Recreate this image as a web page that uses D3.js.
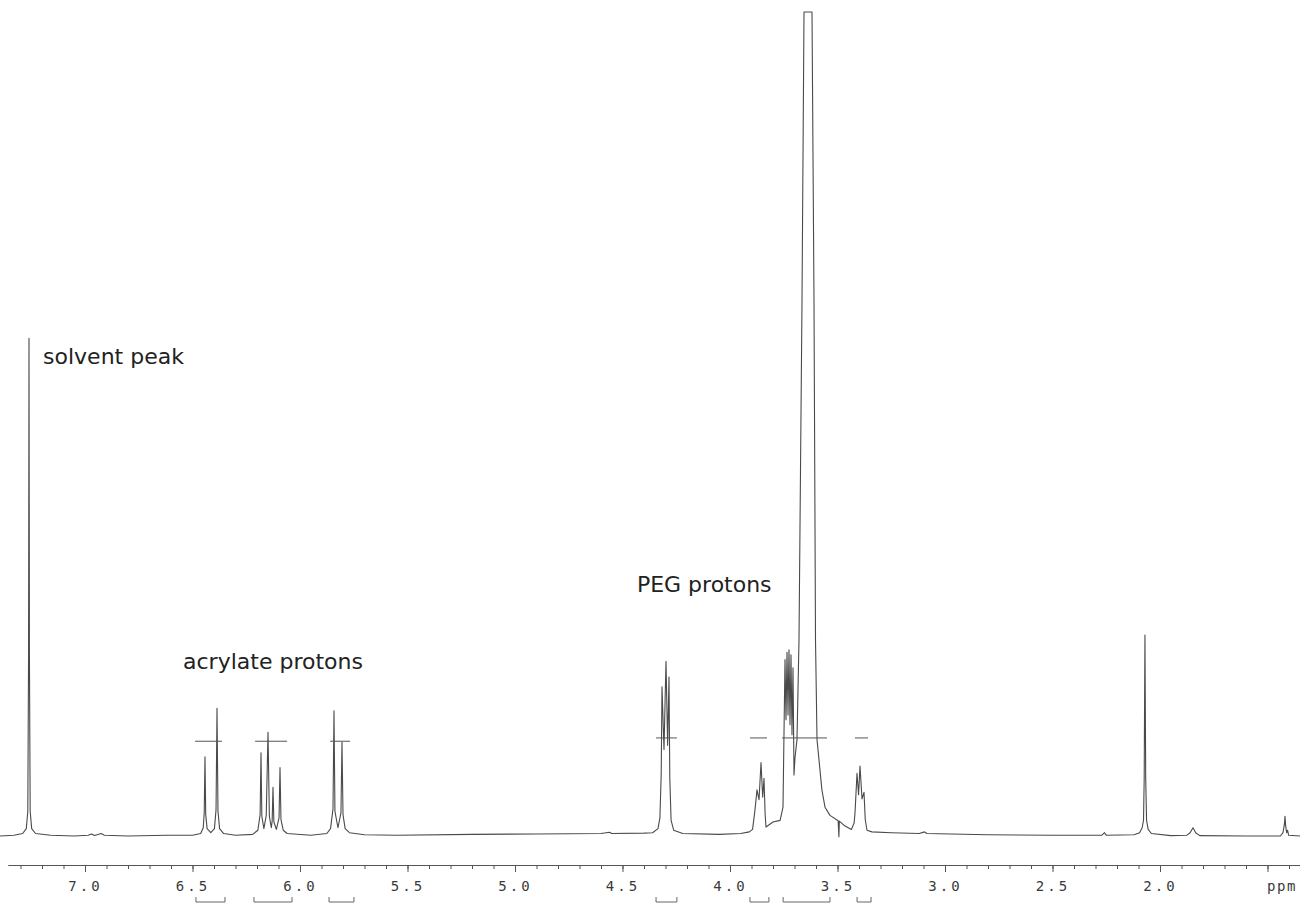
<!DOCTYPE html>
<html>
<head>
<meta charset="utf-8">
<script src="https://cdn.jsdelivr.net/npm/d3@7"></script>
<style>
  body { margin: 0; background: #fff; }
  svg { display: block; background: #fff; }
</style>
</head>
<body>
<svg id="main_svg" width="1300" height="905"></svg>
<script>
// trace: [ppm, intensity], left (downfield) to right
const solventRegion = [
  [7.395, 0.0], [7.33, 0.1], [7.29, 0.3], [7.273, 0.9], [7.266, 3.0],
  [7.2625, 22], [7.2605, 60.4], [7.2585, 22], [7.255, 3.0], [7.248, 0.9],
  [7.23, 0.3], [7.16, 0.1], [7.05, 0.0], [6.985, 0.1], [6.97, 0.25],
  [6.955, 0.05], [6.925, 0.3], [6.91, 0.1], [6.80, 0.0], [6.62, 0.1]
];
const acrylateRegion = [
  [6.50, 0.1], [6.462, 0.3], [6.450, 1.0], [6.4455, 2.8], [6.4419, 9.6],
  [6.4385, 2.6], [6.432, 0.9], [6.415, 0.4], [6.398, 0.9], [6.3905, 3.2],
  [6.3860, 15.5], [6.3815, 3.0], [6.374, 0.9], [6.355, 0.3], [6.30, 0.1],
  [6.22, 0.2], [6.196, 0.7], [6.1855, 2.6], [6.1814, 10.1], [6.1775, 2.4],
  [6.168, 0.9], [6.157, 2.5], [6.1488, 12.6], [6.1425, 2.4], [6.1335, 1.0],
  [6.1295, 1.8], [6.1256, 5.9], [6.1215, 1.7], [6.110, 0.8], [6.0975, 2.2],
  [6.0930, 8.3], [6.0885, 2.0], [6.078, 0.7], [6.06, 0.3], [5.95, 0.1],
  [5.875, 0.3], [5.858, 0.9], [5.8465, 3.3], [5.8419, 15.2], [5.8375, 3.0],
  [5.8235, 1.0], [5.8095, 2.8], [5.8047, 11.4], [5.800, 2.6], [5.790, 0.9],
  [5.77, 0.4], [5.70, 0.15], [5.55, 0.1], [5.2, 0.2], [4.9, 0.25],
  [4.60, 0.3], [4.56, 0.45], [4.55, 0.3], [4.40, 0.35]
];
const pegRegion = [
  [4.36, 0.4], [4.335, 0.9], [4.326, 2.2], [4.320, 7.5], [4.3163, 18.1],
  [4.307, 10.5], [4.2977, 21.2], [4.290, 11.0], [4.2837, 19.3], [4.280, 7.0],
  [4.274, 1.9], [4.262, 0.7], [4.22, 0.3], [4.05, 0.2], [3.95, 0.3],
  [3.91, 0.5], [3.895, 0.8], [3.8837, 3.2], [3.8744, 5.6], [3.865, 4.4],
  [3.8558, 8.9], [3.848, 4.7], [3.8419, 7.0], [3.8365, 2.6], [3.8326, 1.1],
  [3.80, 1.7], [3.767, 1.9], [3.7535, 3.5], [3.7442, 21.4], [3.7395, 14.1],
  [3.7349, 22.3], [3.7302, 14.7], [3.7256, 22.6], [3.7209, 13.5], [3.7163, 22.0],
  [3.7116, 12.3], [3.7070, 20.4], [3.7023, 7.4], [3.6977, 9.5], [3.6884, 11.7],
  [3.6791, 23.8], [3.6651, 65.0], [3.6558, 100], [3.6186, 100], [3.6093, 65.0],
  [3.6023, 23.8], [3.5953, 11.7], [3.5814, 8.0], [3.5726, 5.6], [3.5581, 3.5],
  [3.5349, 2.5], [3.497, 1.85], [3.4935, -0.1], [3.4915, 1.8], [3.4651, 1.2],
  [3.435, 0.8], [3.4225, 1.6], [3.4186, 2.8], [3.4093, 7.6], [3.402, 5.0],
  [3.3953, 8.5], [3.386, 4.5], [3.3767, 5.3], [3.371, 2.0], [3.3628, 0.7],
  [3.34, 0.5]
];
const upfieldRegion = [
  [3.25, 0.4], [3.12, 0.3], [3.095, 0.5], [3.085, 0.3], [2.80, 0.15],
  [2.50, 0.1], [2.27, 0.1], [2.258, 0.4], [2.25, 0.1], [2.12, 0.15],
  [2.095, 0.4], [2.083, 1.0], [2.0767, 1.9], [2.0735, 7.0], [2.0700, 24.4],
  [2.0665, 7.0], [2.0625, 1.9], [2.055, 0.8], [2.04, 0.3], [1.95, 0.05],
  [1.875, 0.1], [1.86, 0.4], [1.8465, 1.0], [1.834, 0.4], [1.815, 0.05],
  [1.60, 0.0], [1.44, 0.0], [1.428, 0.4], [1.4215, 1.4], [1.4186, 2.4],
  [1.4155, 1.2], [1.411, 0.4], [1.4065, 0.7], [1.402, 0.1], [1.349, 0.0]
];

// integral reference marks [from ppm, to ppm, level]
const integralMarks = [
  [6.488, 6.363, 11.5], [6.209, 6.060, 11.5], [5.860, 5.767, 11.5],
  [4.344, 4.247, 11.9], [3.907, 3.828, 11.9], [3.758, 3.549, 11.9], [3.419, 3.358, 11.9]
];
// integration brackets under the axis [from ppm, to ppm]
const integralBrackets = [
  [6.484, 6.349], [6.214, 6.037], [5.865, 5.749],
  [4.344, 4.247], [3.907, 3.819], [3.753, 3.535], [3.409, 3.344]
];

const majorTicks = [7.0, 6.5, 6.0, 5.5, 5.0, 4.5, 4.0, 3.5, 3.0, 2.5, 2.0, 1.5];
const majorLabels = ["7.0", "6.5", "6.0", "5.5", "5.0", "4.5", "4.0", "3.5", "3.0", "2.5", "2.0", ""];
const unitLabel = "ppm";

const annotations = [
  {label: "solvent peak", ppm: 7.195, level: 57.3},
  {label: "acrylate protons", ppm: 6.544, level: 20.3},
  {label: "PEG protons", ppm: 4.433, level: 29.6}
];

const width = 1300, height = 905;
const axisY = 865;

// 7.0 sits at x=85, 2.0 at x=1160
const ref = d3.scaleLinear().domain([7.0, 2.0]).range([85, 1160]);
const x = d3.scaleLinear().domain([ref.invert(8), ref.invert(width)]).range([8, width]);
const y = d3.scaleLinear().domain([0, 100]).range([836, 12]);

const svg = d3.select("#main_svg");

const spectrum = [].concat(solventRegion, acrylateRegion, pegRegion, upfieldRegion);

svg.append("path")
  .datum(spectrum)
  .attr("fill", "none")
  .attr("stroke", "#4a4a4a")
  .attr("stroke-width", 1.1)
  .attr("stroke-linejoin", "round")
  .attr("d", d3.line().x(d => x(d[0])).y(d => y(d[1])));

// integral level marks crossing the multiplets
svg.append("g").selectAll("line").data(integralMarks).enter().append("line")
  .attr("x1", d => x(d[0])).attr("x2", d => x(d[1]))
  .attr("y1", d => y(d[2])).attr("y2", d => y(d[2]))
  .attr("stroke", "#555").attr("stroke-width", 1);

// axis: minor ticks every 0.1 ppm, major every 0.5
const minorTicks = d3.range(14, 74).map(d => d / 10);
svg.append("g").attr("class", "minor_axis")
  .attr("transform", "translate(0," + axisY + ")")
  .call(d3.axisBottom(x).tickValues(minorTicks).tickSize(4).tickFormat("").tickSizeOuter(0));

svg.append("g").attr("class", "major_axis")
  .attr("transform", "translate(0," + axisY + ")")
  .call(d3.axisBottom(x).tickValues(majorTicks).tickSize(7).tickPadding(9).tickSizeOuter(0)
    .tickFormat((d, i) => majorLabels[i]));

svg.selectAll(".minor_axis path, .major_axis path").attr("stroke", "#555").attr("stroke-width", 1.2);
svg.selectAll(".minor_axis line, .major_axis line").attr("stroke", "#555");
svg.selectAll(".major_axis text")
  .attr("font-family", "'DejaVu Sans Mono', monospace")
  .attr("font-size", 14)
  .attr("letter-spacing", "3px")
  .attr("fill", "#3a3a3a");

svg.append("text")
  .attr("x", 1282).attr("y", 891)
  .attr("text-anchor", "middle")
  .attr("font-family", "'DejaVu Sans Mono', monospace")
  .attr("font-size", 14)
  .attr("letter-spacing", "1.5px")
  .attr("fill", "#3a3a3a")
  .text(unitLabel);

// brackets under the axis
const bracketY = 902;
svg.append("g").selectAll("path").data(integralBrackets).enter().append("path")
  .attr("fill", "none").attr("stroke", "#666").attr("stroke-width", 1)
  .attr("d", d => "M" + x(d[0]) + "," + (bracketY - 5) + "V" + bracketY + "H" + x(d[1]) + "V" + (bracketY - 5));

// annotations
svg.append("g").selectAll("text").data(annotations).enter().append("text")
  .attr("x", d => x(d.ppm)).attr("y", d => y(d.level))
  .attr("font-family", "'DejaVu Sans', Verdana, sans-serif")
  .attr("font-size", 22)
  .attr("fill", "#222")
  .text(d => d.label);
</script>
</body>
</html>
